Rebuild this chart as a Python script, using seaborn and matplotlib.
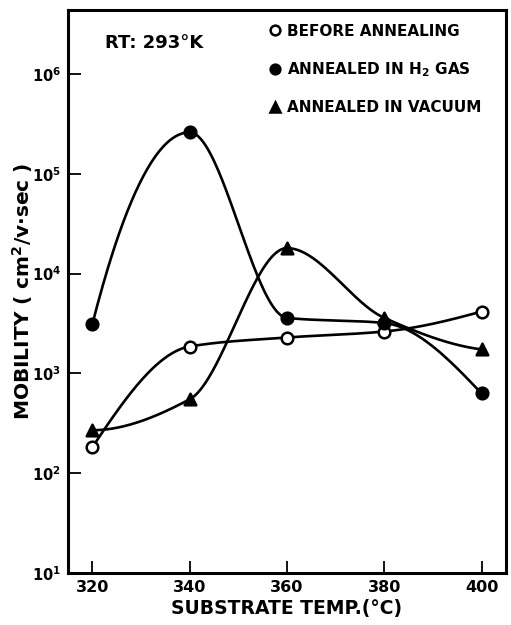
import numpy as np
import pandas as pd
import seaborn as sns
import matplotlib
matplotlib.use("Agg")
import matplotlib.pyplot as plt
from matplotlib.lines import Line2D

# data
temps = [320, 340, 360, 380, 400]
before = [182, 1860, 2290, 2630, 4170]
h2_gas = [3100, 260000, 3600, 3200, 630]
vacuum = [270, 550, 18000, 3600, 1740]

labels = ["BEFORE ANNEALING", "ANNEALED IN H$_2$ GAS", "ANNEALED IN VACUUM"]
yticks = [10, 100, 1000, 10000, 100000, 1000000]
ytick_labels = ["$10^1$", "$10^2$", "$10^3$", "$10^4$", "$10^5$", "$10^6$"]


def end_slope(h0, h1, d0, d1):
    m = ((2 * h0 + h1) * d0 - h0 * d1) / (h0 + h1)
    if np.sign(m) != np.sign(d0):
        return 0.0
    if np.sign(d0) != np.sign(d1) and abs(m) > 3 * abs(d0):
        return 3 * d0
    return m


def pchip(x, y, n=300):
    # monotone cubic (Fritsch-Carlson), only to draw the smooth hand curve
    x = np.asarray(x, float)
    y = np.asarray(y, float)
    h = np.diff(x)
    d = np.diff(y) / h
    m = np.zeros_like(y)
    for i in range(1, len(x) - 1):
        if d[i - 1] * d[i] > 0:
            w1 = 2 * h[i] + h[i - 1]
            w2 = h[i] + 2 * h[i - 1]
            m[i] = (w1 + w2) / (w1 / d[i - 1] + w2 / d[i])
    m[0] = end_slope(h[0], h[1], d[0], d[1])
    m[-1] = end_slope(h[-1], h[-2], d[-1], d[-2])
    xs = np.linspace(x[0], x[-1], n)
    j = np.clip(np.searchsorted(x, xs) - 1, 0, len(x) - 2)
    t = (xs - x[j]) / h[j]
    h00 = 2 * t**3 - 3 * t**2 + 1
    h10 = t**3 - 2 * t**2 + t
    h01 = -2 * t**3 + 3 * t**2
    h11 = t**3 - t**2
    ys = h00 * y[j] + h10 * h[j] * m[j] + h01 * y[j + 1] + h11 * h[j] * m[j + 1]
    return xs, ys


sns.set_theme(style="ticks")
plt.rcParams["font.family"] = ["DejaVu Sans"]
plt.rcParams["font.weight"] = "bold"
plt.rcParams["mathtext.default"] = "bf"
plt.rcParams["text.color"] = "black"
plt.rcParams["axes.labelcolor"] = "black"

fig = plt.figure(figsize=(5.11, 6.25), dpi=100)
ax = fig.add_axes([0.133, 0.083, 0.857, 0.901])

curves = []
for name, vals in zip(labels, [before, h2_gas, vacuum]):
    xs, ys = pchip(temps, np.log10(vals))
    curves.append(pd.DataFrame({"temp": xs, "mob": 10**ys, "cond": name}))
curves = pd.concat(curves)

sns.lineplot(data=curves, x="temp", y="mob", units="cond", estimator=None,
             color="black", lw=1.9, ax=ax, legend=False)

pts = pd.DataFrame({"temp": temps * 3, "mob": before + h2_gas + vacuum,
                    "cond": [labels[0]] * 5 + [labels[1]] * 5 + [labels[2]] * 5})
styles = [("o", "white"), ("o", "black"), ("^", "black")]
for name, (m, fc) in zip(labels, styles):
    sub = pts[pts["cond"] == name]
    sns.scatterplot(data=sub, x="temp", y="mob", marker=m, s=70,
                    facecolor=fc, edgecolor="black", linewidth=1.8, ax=ax, zorder=3)

ax.set_yscale("log")
ax.set_xlim(315, 405)
ax.set_ylim(10, 10**6.64)
ax.set_xticks(temps)
ax.set_xticklabels([str(t) for t in temps], fontsize=11.5, fontweight="bold")
ax.set_yticks(yticks)
ax.set_yticklabels(ytick_labels, fontsize=10.5)
ax.minorticks_off()
ax.tick_params(direction="in", length=9, width=1.3, pad=5, colors="black")
for s in ax.spines.values():
    s.set_linewidth(2.2)
    s.set_color("black")

ax.set_xlabel("SUBSTRATE TEMP.(°C)", fontsize=13.5, fontweight="bold", labelpad=3)
ax.set_ylabel("MOBILITY ( cm$^2$/v$\\cdot$sec )", fontsize=14.5, fontweight="bold")
ax.yaxis.set_label_coords(-0.076, 0.5)

ax.text(0.085, 0.942, "RT: 293°K", transform=ax.transAxes, fontsize=13,
        fontweight="bold", va="center")

handles = [Line2D([], [], marker=m, ls="none", markersize=7, markerfacecolor=fc,
                  markeredgecolor="black", markeredgewidth=1.8) for m, fc in styles]
leg = ax.legend(handles, labels, loc="upper right", bbox_to_anchor=(0.975, 1.0),
                frameon=False, handletextpad=0.35, handlelength=0.8,
                labelspacing=1.4, prop={"size": 11, "weight": "bold"})

plt.savefig("out.png", dpi=100)
